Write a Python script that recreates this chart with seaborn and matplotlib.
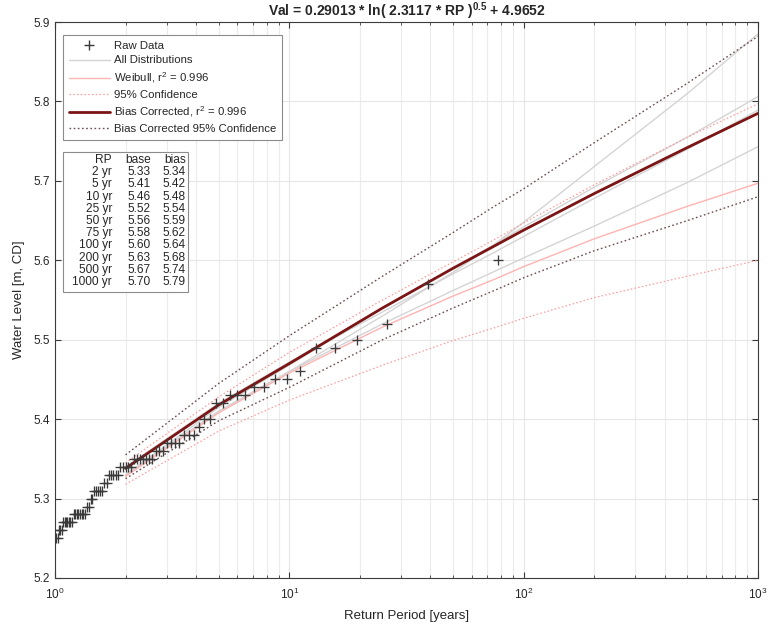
import numpy as np
import pandas as pd
import matplotlib
matplotlib.use("Agg")
import matplotlib.pyplot as plt
import seaborn as sns
from matplotlib.lines import Line2D
from matplotlib.patches import Rectangle

# ---- data ----
raw_values = [5.60, 5.57, 5.52, 5.50, 5.49, 5.49, 5.46, 5.45, 5.45, 5.44,
              5.44, 5.43, 5.43, 5.43, 5.42, 5.42, 5.40, 5.40, 5.39, 5.38,
              5.38, 5.38, 5.37, 5.37, 5.37, 5.37, 5.36, 5.36, 5.36, 5.35,
              5.35, 5.35, 5.35, 5.35, 5.35, 5.35, 5.34, 5.34, 5.34, 5.34,
              5.34, 5.33, 5.33, 5.33, 5.33, 5.33, 5.32, 5.32, 5.31, 5.31,
              5.31, 5.31, 5.31, 5.30, 5.30, 5.29, 5.29, 5.28, 5.28, 5.28,
              5.28, 5.28, 5.28, 5.28, 5.28, 5.27, 5.27, 5.27, 5.27, 5.27,
              5.27, 5.27, 5.26, 5.26, 5.26, 5.25, 5.25]
raw_rank = list(range(1, len(raw_values) + 1))
raw_rp = [(len(raw_values) + 1) / r for r in raw_rank]

# table (as printed)
rp_labels = ["2 yr", "5 yr", "10 yr", "25 yr", "50 yr", "75 yr", "100 yr",
             "200 yr", "500 yr", "1000 yr"]
base_tab = ["5.33", "5.41", "5.46", "5.52", "5.56", "5.58", "5.60", "5.63", "5.67", "5.70"]
bias_tab = ["5.34", "5.42", "5.48", "5.54", "5.59", "5.62", "5.64", "5.68", "5.74", "5.79"]

# curves at these return periods
rp = [2, 5, 10, 25, 50, 75, 100, 200, 500, 1000]
base = [5.328, 5.408, 5.458, 5.516, 5.555, 5.576, 5.592, 5.627, 5.668, 5.697]
bias = [5.338, 5.418, 5.470, 5.540, 5.590, 5.618, 5.638, 5.684, 5.742, 5.785]
base_hi = [5.345, 5.428, 5.484, 5.55, 5.598, 5.626, 5.647, 5.695, 5.755, 5.797]
base_lo = [5.318, 5.385, 5.424, 5.468, 5.499, 5.515, 5.527, 5.553, 5.580, 5.600]
bias_hi = [5.355, 5.445, 5.505, 5.580, 5.635, 5.668, 5.690, 5.748, 5.823, 5.882]
bias_lo = [5.325, 5.398, 5.440, 5.500, 5.540, 5.562, 5.578, 5.612, 5.650, 5.680]
dist_a = [5.33, 5.41, 5.46, 5.53, 5.585, 5.62, 5.648, 5.718, 5.81, 5.885]
dist_b = [5.33, 5.415, 5.468, 5.54, 5.59, 5.62, 5.642, 5.692, 5.755, 5.806]
dist_c = [5.34, 5.42, 5.472, 5.535, 5.583, 5.61, 5.63, 5.678, 5.74, 5.789]
dist_d = [5.33, 5.41, 5.46, 5.52, 5.562, 5.586, 5.603, 5.643, 5.698, 5.743]

title = "Val = 0.29013 * ln( 2.3117 * RP )$^{0.5}$ + 4.9652"

# ---- style ----
sns.set_style("ticks")
plt.rcParams["font.family"] = ["Liberation Sans", "DejaVu Sans"]
plt.rcParams["mathtext.fontset"] = "custom"
plt.rcParams["mathtext.rm"] = "Liberation Sans"
plt.rcParams["mathtext.it"] = "Liberation Sans"
plt.rcParams["mathtext.bf"] = "Liberation Sans:bold"
plt.rcParams["mathtext.default"] = "regular"

txt = "#262626"
fig = plt.figure(figsize=(7.71, 6.29), dpi=100)
ax = fig.add_axes([55 / 771, 1 - 578 / 629, 703 / 771, 556 / 629])
ax.set_xscale("log")

df = pd.DataFrame({"rp": rp, "base": base, "bias": bias, "base_hi": base_hi,
                   "base_lo": base_lo, "bias_hi": bias_hi, "bias_lo": bias_lo,
                   "a": dist_a, "b": dist_b, "c": dist_c, "d": dist_d})

gray = "#d4d4d4"
for col in ["a", "b", "c", "d"]:
    sns.lineplot(data=df, x="rp", y=col, ax=ax, color=gray, lw=1.0, zorder=2)

pink = "#ffb3b3"
pdot = "#ff9a9a"
dots = (0, (1.2, 1.8))
sns.lineplot(data=df, x="rp", y="base", ax=ax, color=pink, lw=1.0, zorder=3)
for col in ["base_hi", "base_lo"]:
    sns.lineplot(data=df, x="rp", y=col, ax=ax, color=pdot, lw=0.9,
                 linestyle=dots, zorder=3)

dcol = "#6e4e4e"
for col in ["bias_hi", "bias_lo"]:
    sns.lineplot(data=df, x="rp", y=col, ax=ax, color=dcol, lw=1.0,
                 linestyle=dots, zorder=4)

sns.lineplot(data=df, x="rp", y="bias", ax=ax, color="#7b1515", lw=2.0, zorder=5)

raw = pd.DataFrame({"rp": raw_rp, "val": raw_values})
sns.scatterplot(data=raw, x="rp", y="val", ax=ax, marker="+", s=50,
                color="#3a3a3a", linewidth=0.95, zorder=6)

# ---- axes ----
yt = np.arange(5.2, 5.91, 0.1)
ax.set_xlim(1, 1000)
ax.set_ylim(5.2, 5.9)
ax.set_yticks(yt)
ax.set_yticklabels([f"{v:.1f}" for v in yt])
ax.grid(True, which="major", color="#e6e6e6", lw=0.8)
ax.grid(True, which="minor", axis="x", color="#ececec", lw=0.8)
ax.tick_params(which="both", direction="in", top=True, right=True,
               colors="#3c3c3c", labelcolor=txt, labelsize=8.5)
ax.tick_params(axis="x", which="major", pad=6)
ax.tick_params(which="major", length=4)
ax.tick_params(which="minor", length=2.5)
for s in ax.spines.values():
    s.set_color("#3c3c3c")
    s.set_linewidth(0.8)
ax.set_xlabel("Return Period [years]", fontsize=9.5, color=txt, labelpad=6)
ax.set_ylabel("Water Level [m, CD]", fontsize=9.5, color=txt, labelpad=6)
ax.set_title(title, fontsize=10, fontweight="bold", color=txt, pad=4)

# ---- legend ----
handles = [
    Line2D([], [], color="#3a3a3a", marker="+", linestyle="none", markersize=7),
    Line2D([], [], color=gray, lw=1.0),
    Line2D([], [], color=pink, lw=1.0),
    Line2D([], [], color=pdot, lw=0.9, linestyle=dots),
    Line2D([], [], color="#7b1515", lw=2.0),
    Line2D([], [], color=dcol, lw=1.0, linestyle=dots),
]
labels = ["Raw Data", "All Distributions", "Weibull, r$^2$ = 0.996",
          "95% Confidence", "Bias Corrected, r$^2$ = 0.996",
          "Bias Corrected 95% Confidence"]
leg = ax.legend(handles, labels, loc="upper left",
                bbox_to_anchor=(0.0114, 0.9766), fontsize=8.2, frameon=True,
                fancybox=False, edgecolor="#8c8c8c", framealpha=1,
                handlelength=3.6, handletextpad=0.4, labelspacing=0.42,
                borderpad=0.5, borderaxespad=0)
leg.get_frame().set_linewidth(0.8)
for t in leg.get_texts():
    t.set_color(txt)

# ---- table box ----
x0, x1 = (63 - 55) / 703, (188 - 55) / 703
y_top, y_bot = (578 - 152) / 556, (578 - 292) / 556
ax.add_patch(Rectangle((x0, y_bot), x1 - x0, y_top - y_bot,
                       transform=ax.transAxes, facecolor="white",
                       edgecolor="#8c8c8c", lw=0.8, zorder=10))
cols_x = [(112 - 55) / 703, (151 - 55) / 703, (186 - 55) / 703]
row_h = 12.2 / 556
y = (578 - 160) / 556
for j, h in enumerate(["RP", "base", "bias"]):
    ax.text(cols_x[j], y, h, transform=ax.transAxes, ha="right", va="center",
            fontsize=8.6, color=txt, zorder=11)
for i, lab in enumerate(rp_labels):
    yy = y - (i + 1) * row_h
    vals = [lab, base_tab[i], bias_tab[i]]
    for j, v in enumerate(vals):
        ax.text(cols_x[j], yy, v, transform=ax.transAxes, ha="right",
                va="center", fontsize=8.6, color=txt, zorder=11)

fig.savefig("out.png", dpi=100)
